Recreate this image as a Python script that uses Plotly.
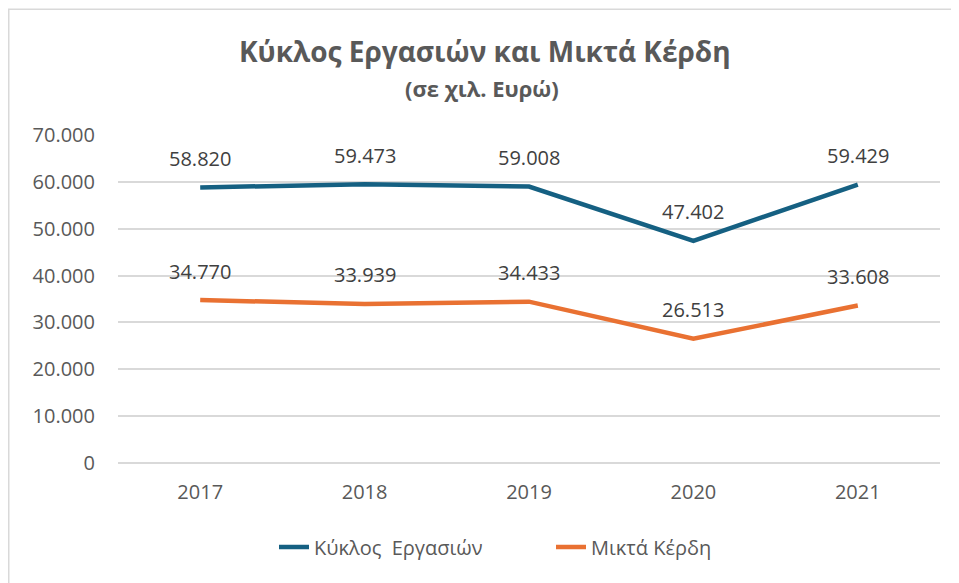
import plotly.graph_objects as go

years = ["2017", "2018", "2019", "2020", "2021"]
turnover = [58820, 59473, 59008, 47402, 59429]
gross_profit = [34770, 33939, 34433, 26513, 33608]
turnover_labels = ["58.820", "59.473", "59.008", "47.402", "59.429"]
profit_labels = ["34.770", "33.939", "34.433", "26.513", "33.608"]
y_ticks = [0, 10000, 20000, 30000, 40000, 50000, 60000, 70000]
y_tick_labels = ["0", "10.000", "20.000", "30.000", "40.000", "50.000", "60.000", "70.000"]

BLUE = "#156082"
ORANGE = "#E97132"
TEXT = "#595959"
FONT = "Open Sans, Lato, sans-serif"

# figure geometry (page body adds an 8px offset)
W, H = 951, 575
L, R, T, B = 110, 19, 127, 120
PW, PH = W - L - R, H - T - B


def px(x):
    return (x - L) / PW


def py(y):
    return (H - B - y) / PH


fig = go.Figure()
fig.add_trace(go.Scatter(x=years, y=turnover, mode="lines", name="Κύκλος  Εργασιών",
                         line=dict(color=BLUE, width=4.5)))
fig.add_trace(go.Scatter(x=years, y=gross_profit, mode="lines", name="Μικτά Κέρδη",
                         line=dict(color=ORANGE, width=4.5)))

annotations = []
for ys, labs in [(turnover, turnover_labels), (gross_profit, profit_labels)]:
    # on a category axis, annotation x is the category index
    for i, (y, t) in enumerate(zip(ys, labs)):
        annotations.append(dict(x=i, y=y, xref="x", yref="y", text=t, showarrow=False, yshift=29,
                                font=dict(size=20, color="#404040", family=FONT)))

annotations.append(dict(xref="paper", yref="paper", x=px(477), y=py(43),
                        xanchor="center", yanchor="middle",
                        text="<b>Κύκλος Εργασιών και Μικτά Κέρδη</b>", showarrow=False,
                        font=dict(size=28, color=TEXT, family=FONT)))
annotations.append(dict(xref="paper", yref="paper", x=px(474), y=py(80),
                        xanchor="center", yanchor="middle",
                        text="<b>(σε χιλ. Ευρώ)</b>", showarrow=False,
                        font=dict(size=22, color=TEXT, family=FONT)))

fig.update_layout(
    width=W, height=H,
    margin=dict(l=L, r=R, t=T, b=B),
    paper_bgcolor="white", plot_bgcolor="white",
    font=dict(family=FONT, color=TEXT, size=20),
    showlegend=True,
    legend=dict(orientation="h", x=px(266), xanchor="left", y=py(539), yanchor="middle",
                entrywidth=232, entrywidthmode="pixels",
                font=dict(size=20, color=TEXT, family=FONT)),
    annotations=annotations,
    shapes=[dict(type="rect", xref="paper", yref="paper",
                 x0=px(0.75), x1=px(W + 30),
                 y0=py(H + 30), y1=py(1.25),
                 line=dict(color="#D9D9D9", width=1.5), fillcolor="rgba(0,0,0,0)", layer="below")],
)
fig.update_xaxes(type="category", range=[-0.5, 4.5], showgrid=False, showline=False,
                 automargin=False, ticks="outside", ticklen=11, tickcolor="rgba(0,0,0,0)",
                 tickfont=dict(size=20, color=TEXT))
fig.update_yaxes(range=[0, 70000], tickvals=y_ticks, ticktext=y_tick_labels, automargin=False,
                 showgrid=True, gridcolor="#D9D9D9", gridwidth=1.5, zeroline=True,
                 zerolinecolor="#D9D9D9", zerolinewidth=1.5, showline=False,
                 ticks="outside", ticklen=18, tickcolor="rgba(0,0,0,0)",
                 tickfont=dict(size=20, color=TEXT))

fig.write_html("out.html")
